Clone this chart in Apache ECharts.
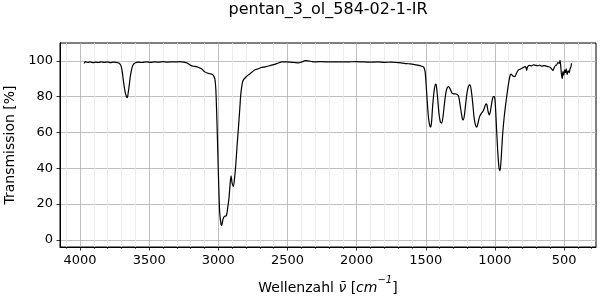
<!DOCTYPE html>
<html><head><meta charset="utf-8">
<script src="https://cdn.jsdelivr.net/npm/echarts@6/dist/echarts.min.js"></script>
<style>html,body{margin:0;padding:0;background:#fff}#c{width:600px;height:300px}</style>
</head><body><div id="c"></div>
<script>
const titleText = 'pentan_3_ol_584-02-1-IR';
const xTicks = [4000, 3500, 3000, 2500, 2000, 1500, 1000, 500];
const yTicks = [0, 20, 40, 60, 80, 100];
const wavenumbers = [
3970,3962,3945,3925,3905,3885,3865,3845,3825,3800,3780,3760,3740,3720,3705,3695,3685,3675,3665,3660,3655,3645,3635,3625,3612,3600,
3580,3550,3520,3490,3460,3430,3400,3370,3340,3310,3280,3250,3225,3200,3180,3160,3140,3120,3100,3080,3060,3045,3035,3025,3018,3010,
3000,2990,2980,2975,2968,2958,2942,2932,2923,2914,2908,2900,2891,2882,2874,2864,2855,2846,2838,2828,2819,2800,2783,2760,2735,2710,
2690,2660,2630,2600,2570,2540,2510,2480,2450,2420,2400,2370,2350,2320,2290,2250,2200,2150,2100,2050,2000,1950,1900,1850,1800,1750,
1700,1670,1640,1610,1580,1550,1530,1515,1505,1498,1490,1480,1470,1464,1458,1450,1440,1430,1424,1415,1405,1395,1385,1375,1365,1355,
1345,1335,1325,1310,1296,1280,1264,1255,1245,1235,1228,1220,1210,1200,1190,1180,1170,1160,1150,1140,1131,1120,1110,1095,1085,1075,
1065,1058,1050,1040,1032,1022,1012,1004,998,990,980,970,963,955,945,935,927,915,900,890,883,870,855,845,830,818,800,782,775,770,765,
750,735,722,705,690,675,660,645,630,615,601,590,580,570,560,553,545,535,529,524,518,513,508,502,496,490,484,478,470,462,457,450,446
];
const transmission = [
98.6,99.6,99.2,99.4,99.0,99.3,99.1,99.5,99.2,99.4,99.0,99.3,99.2,98.8,97.5,94,88,83,80,79.5,80.5,86,92,96,98.3,99.0,
99.3,99.1,99.5,99.2,99.4,99.3,99.6,99.3,99.5,99.4,99.6,99.3,98.8,97.5,97.0,96.8,96.2,95.5,94.0,93.2,92.8,92.5,91.8,90,84,66,
38,15,8.5,8.0,11,13,13.5,18,23.5,32,35.8,31.5,29.8,35,42,53,62.4,72,81,87,89.4,91,92.2,93.5,95,95.6,
96.3,96.7,97.3,97.9,98.7,99.5,99.5,99.3,99.1,98.9,99.3,100.1,100.0,99.6,99.5,99.6,99.4,99.5,99.4,99.5,99.6,99.4,99.3,99.4,99.2,99.3,
99.0,98.8,98.5,98.3,97.9,97.5,97.0,96.5,94,87.5,78,68,63.5,63,66,75,83,87,86.5,80,71,66,65.2,69,76,82,
85,85.7,84.5,82,81.6,81.5,80.5,77,72,67.5,67,70,77,83,86,86.6,83,76,68,64,63,66,69,71,72,74,
76,75.5,72,69.8,72,77,80,80,77,65,50,40,38.5,45,58,67,72.6,80,88,92,92.6,91.5,91.2,93,95,95.3,96,96.8,96.2,94.8,96.5,
97.5,97.2,97.8,97.5,97.3,97.6,97.0,97.4,97.1,96.8,96.5,95.5,94.6,96.5,97.5,97.8,99,98.6,100.3,97,92,90.2,94,92,95,93.5,95.5,92.3,94.5,93.5,95.5,96.8,98.7
];
const seriesData = wavenumbers.map((w, i) => [w, transmission[i]]);
const font = 'DejaVu Sans';
const chart = echarts.init(document.getElementById('c'), null, {renderer: 'canvas'});
chart.setOption({
  animation: false,
  backgroundColor: '#fff',
  title: {
    text: titleText, left: 328, top: 2, textAlign: 'center', padding: 0,
    textStyle: {fontFamily: font, fontSize: 16, fontWeight: 'normal', color: '#000'}
  },
  grid: {left: 60, right: 4, top: 43, bottom: 53, show: true, borderColor: '#000', borderWidth: 1,
         containLabel: false, outerBoundsMode: 'none'},
  xAxis: {
    type: 'value', inverse: true, min: 269, max: 4145, splitNumber: 8,
    name: '{n|Wellenzahl }{i|ν̄}{n| [}{i|cm}{s|−1}{n|]}',
    nameLocation: 'middle', nameGap: 28,
    nameTextStyle: {
      fontFamily: font, fontSize: 14, color: '#000',
      rich: {
        n: {fontFamily: font, fontSize: 14, color: '#000', lineHeight: 20, verticalAlign: 'bottom'},
        i: {fontFamily: font, fontSize: 14, fontStyle: 'italic', color: '#000', lineHeight: 20, verticalAlign: 'bottom'},
        s: {fontFamily: font, fontSize: 10, fontStyle: 'italic', color: '#000', lineHeight: 20, verticalAlign: 'top'}
      }
    },
    axisLine: {show: true, onZero: false, lineStyle: {color: '#000', width: 1}},
    axisTick: {show: true, length: 3.5, customValues: xTicks, lineStyle: {color: '#000', width: 0.8}},
    minorTick: {show: true, splitNumber: 5, length: 2, lineStyle: {color: '#000', width: 0.6}},
    axisLabel: {customValues: xTicks, formatter: v => String(v), color: '#000', fontFamily: font, fontSize: 13, margin: 7},
    splitLine: {show: true, lineStyle: {color: '#b0b0b0', width: 0.8}},
    minorSplitLine: {show: true, lineStyle: {color: '#e8e8e8', width: 0.8}}
  },
  yAxis: {
    type: 'value', min: -4, max: 110, splitNumber: 6,
    name: 'Transmission [%]', nameLocation: 'middle', nameGap: 40, nameRotate: 90,
    nameTextStyle: {fontFamily: font, fontSize: 14, color: '#000'},
    axisLine: {show: true, onZero: false, lineStyle: {color: '#000', width: 1}},
    axisTick: {show: true, length: 3.5, customValues: yTicks, lineStyle: {color: '#000', width: 0.8}},
    axisLabel: {customValues: yTicks, formatter: v => String(v), color: '#000', fontFamily: font, fontSize: 13, margin: 7},
    splitLine: {show: true, lineStyle: {color: '#b0b0b0', width: 0.8}}
  },
  series: [{
    type: 'line', data: seriesData, showSymbol: false, smooth: 0.25,
    lineStyle: {color: '#000', width: 1.2}, silent: true
  }]
});
</script></body></html>
